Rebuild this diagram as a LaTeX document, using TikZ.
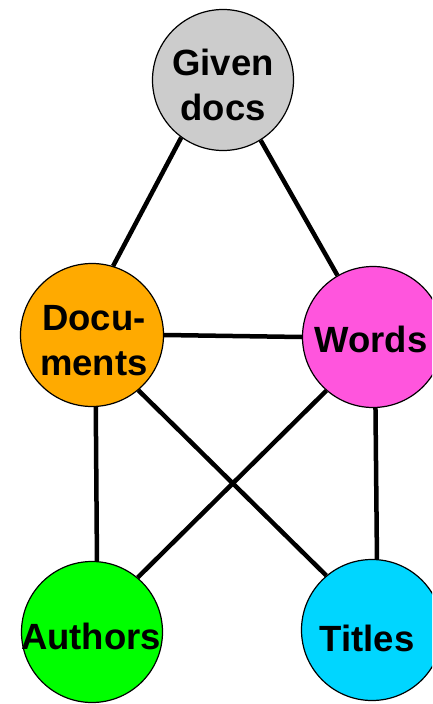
\documentclass[tikz,border=0pt]{standalone}
\usepackage{fontspec}
\setmainfont{Liberation Sans}
\definecolor{cgiven}{RGB}{204,204,204}
\definecolor{cdocs}{RGB}{255,170,0}
\definecolor{cwords}{RGB}{255,85,221}
\definecolor{cauth}{RGB}{0,255,0}
\definecolor{ctitle}{RGB}{0,214,255}
\tikzset{
  ent/.style={circle, draw=black, line width=1.2pt, minimum size=141pt, inner sep=0pt},
  lbl/.style={align=center, inner sep=0pt, font=\fontsize{36.5}{45}\selectfont\bfseries},
  link/.style={line width=4.5pt, black}
}
\begin{document}
\begin{tikzpicture}[x=1pt,y=-1pt]
\useasboundingbox (0,0) rectangle (432,704);
\clip (0,0) rectangle (432,704);
\node[ent, fill=cgiven] (g) at (223,80) {};
\node[lbl] (gt) at (223,85) {Given\\docs};
\node[ent, fill=cdocs, minimum size=143pt] (d) at (92,335) {};
\node[lbl] (dt) at (94,341) {Docu-\\ments};
\node[ent, fill=cwords] (w) at (373,337) {};
\node[lbl] (wt) at (371,339) {Words};
\node[ent, fill=cauth] (a) at (92,632) {};
\node[lbl] (at) at (91,636) {Authors};
\node[ent, fill=ctitle] (t) at (372,630) {};
\node[lbl] (tt) at (367,638) {Titles};
\draw[link] (g.234.7) -- (d.73.4);
\draw[link] (g.302) -- (w.120.7);
\draw[link] (d.0) -- (w.180);
\draw[link] (d.273) -- (a.86.7);
\draw[link] (d.310) -- (t.130.9);
\draw[link] (w.229) -- (a.50.7);
\draw[link] (w.272.5) -- (t.86.7);
\end{tikzpicture}
\end{document}
